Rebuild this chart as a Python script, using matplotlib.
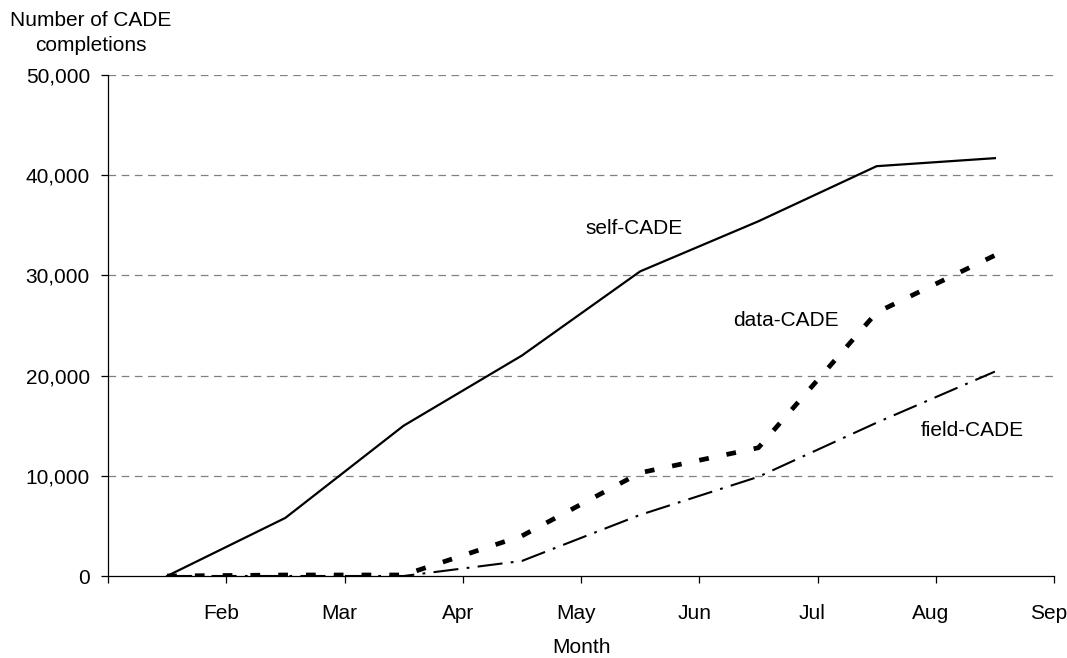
import matplotlib
matplotlib.use("Agg")
import matplotlib.pyplot as plt
import matplotlib.transforms as mtransforms
from matplotlib.ticker import FuncFormatter

plt.rcParams['font.family'] = ['Liberation Sans', 'DejaVu Sans']
plt.rcParams['lines.scale_dashes'] = False

# ---- data ----
months = ["", "Feb", "Mar", "Apr", "May", "Jun", "Jul", "Aug", "Sep"]
point_pos = [0.5, 1.5, 2.5, 3.5, 4.5, 5.5, 6.5, 7.5]
self_cade = [0, 5800, 15000, 22000, 30400, 35400, 40900, 41700]
data_cade = [0, 100, 100, 4000, 10300, 12800, 26300, 32000]
field_cade = [0, 0, 0, 1500, 6100, 9900, 15300, 20400]
y_ticks = [0, 10000, 20000, 30000, 40000, 50000]

W, H = 1067, 658
fig = plt.figure(figsize=(W/100, H/100), dpi=100)
ax = fig.add_axes([108/W, 1-576/H, (1054-108)/W, (576-75)/H])

for y in y_ticks[1:]:
    ax.axhline(y, color='#808080', lw=0.9, dashes=(5.5, 4), zorder=1)

ax.plot(point_pos, self_cade, color='black', lw=1.6, zorder=3)
ax.plot(point_pos, data_cade, color='black', lw=3.4, dashes=(7, 13), zorder=3,
        dash_capstyle='butt')
ax.plot(point_pos, field_cade, color='black', lw=1.5, dashes=(18, 6, 2, 6), zorder=3)

ax.set_xlim(0, 8)
ax.set_ylim(0, 50000)
ax.set_xticks(range(9))
ax.set_xticklabels(months)
ax.set_yticks(y_ticks)
ax.yaxis.set_major_formatter(FuncFormatter(lambda v, p: f"{int(v):,}"))

for s in ['top', 'right']:
    ax.spines[s].set_visible(False)
for s in ['left', 'bottom']:
    ax.spines[s].set_linewidth(0.9)
    ax.spines[s].set_color('black')

ax.tick_params(axis='x', direction='out', length=5, width=0.9, pad=15, labelsize=15)
ax.tick_params(axis='y', direction='out', length=5, width=0.9, pad=8, labelsize=15)

offset = mtransforms.ScaledTranslation(-5/100, 0, fig.dpi_scale_trans)
for lbl in ax.get_xticklabels():
    lbl.set_transform(lbl.get_transform() + offset)

ax.set_xlabel("Month", fontsize=15, labelpad=11)
fig.text(91/W, 1-33/H, "Number of CADE\ncompletions", ha='center', va='center',
         fontsize=15, linespacing=1.45)

fig.text(634/W, 1-228/H, "self-CADE", fontsize=15, ha='center', va='center')
fig.text(786/W, 1-320/H, "data-CADE", fontsize=15, ha='center', va='center')
fig.text(972/W, 1-430/H, "field-CADE", fontsize=15, ha='center', va='center')

fig.savefig("out.png", dpi=100)
